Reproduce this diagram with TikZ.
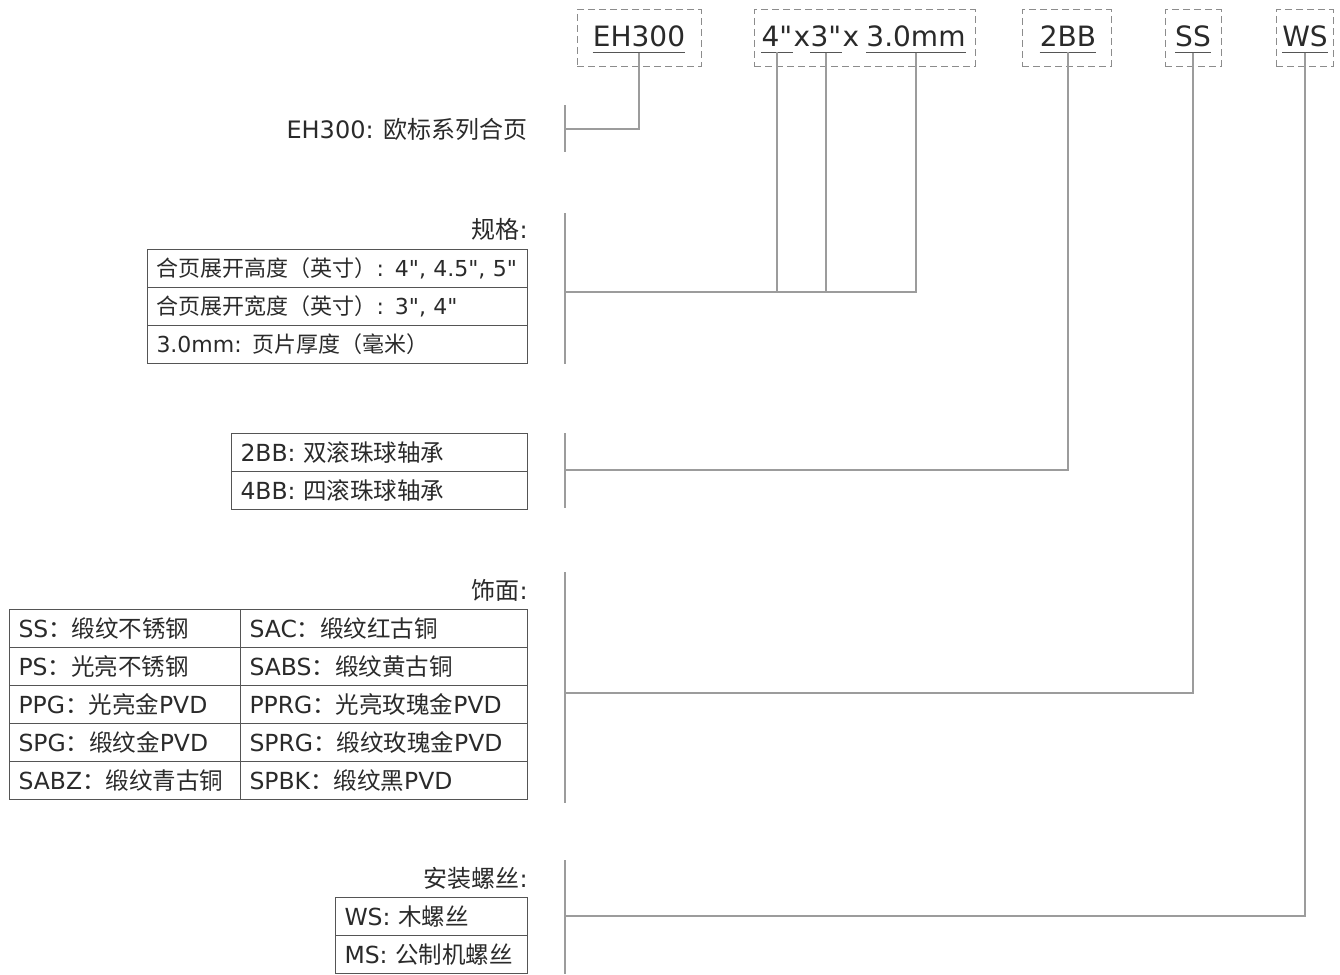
\documentclass[tikz,border=0pt]{standalone}
\usepackage{fontspec}
\setmainfont{DejaVu Sans}[Ligatures=TeXOff]
\newfontfamily\zh{Noto Sans CJK SC}

\definecolor{txt}{HTML}{2A2A2A}
\definecolor{wiregray}{HTML}{9C9C9C}
\definecolor{tabgray}{HTML}{555555}
\definecolor{boxgray}{HTML}{8C8C8C}

\tikzset{
  codebox/.style={draw=boxgray, line width=1pt, dash pattern=on 7pt off 4pt, inner sep=0pt, minimum height=56pt},
  code/.style={font=\fontsize{28}{28}\selectfont, text=txt, anchor=base, inner xsep=0pt, inner ysep=5pt},
  cell/.style={draw=tabgray, line width=1pt, anchor=north west, minimum height=38pt,
    inner xsep=9pt, inner ysep=0pt, text width=#1, align=left,
    font=\fontsize{23.5}{23.5}\selectfont, text=txt},
  lbl/.style={anchor=east, inner sep=0pt, font=\fontsize{24}{24}\selectfont, text=txt},
  wire/.style={draw=wiregray, line width=1.6pt},
  uline/.style={draw=tabgray, line width=1.2pt},
}

\begin{document}
\begin{tikzpicture}[x=1pt,y=-1pt]
\useasboundingbox (0,0) rectangle (1340,974);

% les codes en haut
\node[codebox, minimum width=124pt] (bEH) at (639,38) {};
\node[codebox, minimum width=221pt] (bDim) at (864.5,38) {};
\node[codebox, minimum width=89pt] (bBB) at (1066.5,38) {};
\node[codebox, minimum width=56pt] (bSS) at (1193,38) {};
\node[codebox, minimum width=57pt] (bWS) at (1304.5,38) {};

\node[code] (eh) at (639,47) {EH300};
\node[code] (h) at (777,47) {4"};
\node[code] (x1) at (802,47) {x};
\node[code] (w) at (826,47) {3"};
\node[code] (x2) at (851,47) {x};
\node[code] (t) at (916,47) {3.0mm};
\node[code] (bb) at (1068,47) {2BB};
\node[code] (ss) at (1193,47) {SS};
\node[code] (ws) at (1305,47) {WS};

% soulignement
\foreach \c in {eh,h,w,t,bb,ss,ws}{
    \draw[uline] (\c.south west) -- (\c.south east);
}

% les barres verticales
\draw[wire] (565,105) -- (565,152);
\draw[wire] (565,213) -- (565,364);
\draw[wire] (565,433) -- (565,508);
\draw[wire] (565,572) -- (565,803);
\draw[wire] (565,860) -- (565,974);

\coordinate (jEH) at (565,129);
\coordinate (jDim) at (565,292);
\coordinate (jBB) at (565,470);
\coordinate (jSS) at (565,693);
\coordinate (jWS) at (565,916);

% EH300
\node[lbl] (tEH) at (528,129) {EH300: {\zh 欧标系列合页}};

% spécifications
\node[lbl] (tDim) at (528,229) {{\zh 规格}:};
\foreach \txt [count=\i from 0] in {{{\zh 合页展开高度（英寸）}: 4", 4.5", 5"}, {{\zh 合页展开宽度（英寸）}: 3", 4"}, {3.0mm: {\zh 页片厚度（毫米）}}}{
    \node[cell=362pt, font=\fontsize{22}{22}\selectfont] (dim\i) at (147,{249+38*\i}) {\mbox{\txt}};
}

% roulements
\foreach \txt [count=\i from 0] in {{2BB: {\zh 双滚珠球轴承}}, {4BB: {\zh 四滚珠球轴承}}}{
    \node[cell=278pt] (bb\i) at (231,{433+38*\i}) {\mbox{\txt}};
}

% finitions
\node[lbl] (tSS) at (528,590) {{\zh 饰面}:};
\foreach \l/\r [count=\i from 0] in {{SS{\zh ：缎纹不锈钢}}/{SAC{\zh ：缎纹红古铜}},
    {PS{\zh ：光亮不锈钢}}/{SABS{\zh ：缎纹黄古铜}},
    {PPG{\zh ：光亮金}PVD}/{PPRG{\zh ：光亮玫瑰金}PVD},
    {SPG{\zh ：缎纹金}PVD}/{SPRG{\zh ：缎纹玫瑰金}PVD},
    {SABZ{\zh ：缎纹青古铜}}/{SPBK{\zh ：缎纹黑}PVD}}{
    \node[cell=213pt] (fl\i) at (9,{609+38*\i}) {\mbox{\l}};
    \node[cell=269pt] (fr\i) at (240,{609+38*\i}) {\mbox{\r}};
}

% vis
\node[lbl] (tWS) at (528,878) {{\zh 安装螺丝}:};
\foreach \txt [count=\i from 0] in {{WS: {\zh 木螺丝}}, {MS: {\zh 公制机螺丝}}}{
    \node[cell=174pt] (ws\i) at (335,{897+38*\i}) {\mbox{\txt}};
}

% les liaisons
\draw[wire] (eh.south) |- (jEH);
\draw[wire] (h.south) -- (h.south |- jDim);
\draw[wire] (w.south) -- (w.south |- jDim);
\draw[wire] (t.south) |- (jDim);
\draw[wire] (bb.south) |- (jBB);
\draw[wire] (ss.south) |- (jSS);
\draw[wire] (ws.south) |- (jWS);

\end{tikzpicture}
\end{document}
